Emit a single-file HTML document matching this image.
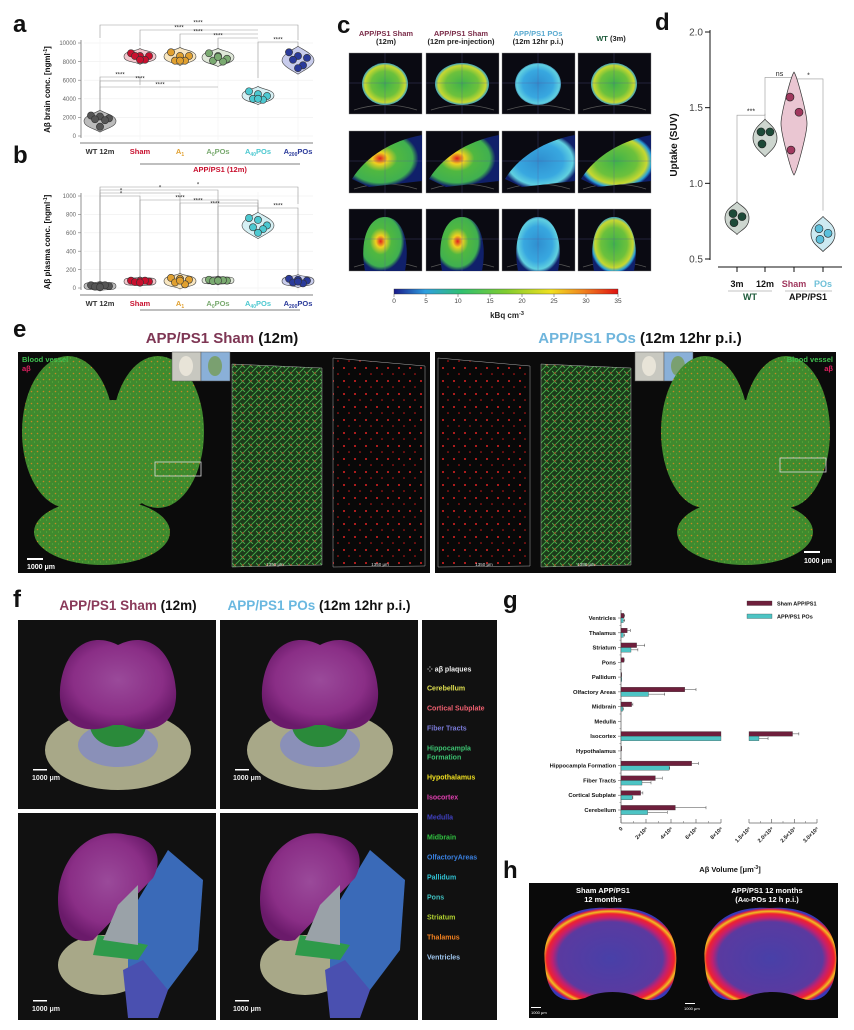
<!DOCTYPE html>
<html><head><meta charset="utf-8">
<style>
html,body{margin:0;padding:0;background:#fff;}
body{width:854px;height:1030px;overflow:hidden;font-family:"Liberation Sans",sans-serif;}
svg{display:block}
text{font-family:"Liberation Sans","DejaVu Sans",sans-serif;}
</style></head>
<body>
<svg id="fig" width="854" height="1030" viewBox="0 0 854 1030" xmlns="http://www.w3.org/2000/svg">
<defs>
  <radialGradient id="petG" cx="50%" cy="50%" r="55%"><stop offset="0" stop-color="#3fb34a"/><stop offset="0.55" stop-color="#6cc13c"/><stop offset="0.8" stop-color="#c8d830"/><stop offset="0.92" stop-color="#2aa0d8"/><stop offset="1" stop-color="#10206a"/></radialGradient>
  <radialGradient id="petB" cx="50%" cy="50%" r="55%"><stop offset="0" stop-color="#2f8fd0"/><stop offset="0.6" stop-color="#38a8e0"/><stop offset="0.85" stop-color="#60d0e0"/><stop offset="1" stop-color="#10206a"/></radialGradient>
  <radialGradient id="petH" cx="40%" cy="45%" r="55%"><stop offset="0" stop-color="#e02020"/><stop offset="0.2" stop-color="#f0d020"/><stop offset="0.45" stop-color="#50b840"/><stop offset="0.85" stop-color="#40b050"/><stop offset="1" stop-color="#10206a"/></radialGradient>
  <linearGradient id="cbar" x1="0" x2="1"><stop offset="0" stop-color="#1a1a8a"/><stop offset="0.14" stop-color="#2f9fe0"/><stop offset="0.3" stop-color="#30c070"/><stop offset="0.5" stop-color="#80cc30"/><stop offset="0.7" stop-color="#f0e020"/><stop offset="0.85" stop-color="#f08020"/><stop offset="1" stop-color="#e01010"/></linearGradient>
  <pattern id="vessel" width="8" height="8" patternUnits="userSpaceOnUse"><rect width="8" height="8" fill="#1c3a1a"/><path d="M0 8 L8 0 M-2 2 L2 -2 M6 10 L10 6 M0 3 L5 8" stroke="#49b04a" stroke-width="0.9"/><circle cx="3" cy="5" r="0.7" fill="#e02020"/></pattern>
  <pattern id="plaq" width="11" height="13" patternUnits="userSpaceOnUse"><rect width="11" height="13" fill="#080808"/><circle cx="3" cy="4" r="1" fill="#e02222"/><circle cx="8" cy="10" r="0.8" fill="#d01818"/></pattern>
  <pattern id="brainE" width="6" height="6" patternUnits="userSpaceOnUse"><rect width="6" height="6" fill="#3f8a2e"/><circle cx="1.5" cy="1.5" r="0.8" fill="#c48a24"/><circle cx="4.5" cy="4" r="0.6" fill="#5fae3a"/></pattern>
  <radialGradient id="hBrain" cx="50%" cy="55%" r="55%"><stop offset="0" stop-color="#4840a8"/><stop offset="0.72" stop-color="#5a3aa0"/><stop offset="0.8" stop-color="#c02070"/><stop offset="0.88" stop-color="#f02030"/><stop offset="0.93" stop-color="#f0c020"/><stop offset="0.97" stop-color="#e02040"/><stop offset="1" stop-color="#3838b8"/></radialGradient>
  <radialGradient id="purp" cx="50%" cy="45%" r="55%"><stop offset="0" stop-color="#9a4a9a"/><stop offset="0.7" stop-color="#8a2e86"/><stop offset="1" stop-color="#6a1a6a"/></radialGradient>
</defs>

<g font-weight="bold" font-size="24" fill="#111">
  <text x="13" y="32">a</text>
  <text x="13" y="163">b</text>
  <text x="337" y="33">c</text>
  <text x="655" y="30">d</text>
  <text x="13" y="337">e</text>
  <text x="13" y="607">f</text>
  <text x="503" y="608">g</text>
  <text x="503" y="878">h</text>
</g>

<g id="panelA"></g>
<g id="panelB"></g>

<g id="panelC" font-size="7.5" font-weight="bold" text-anchor="middle">
  <text x="386" y="36" fill="#7b2d4a">APP/PS1 Sham</text>
  <text x="386" y="44" fill="#222">(12m)</text>
  <text x="461" y="36" fill="#7b2d4a">APP/PS1 Sham</text>
  <text x="461" y="44" fill="#222">(12m pre-injection)</text>
  <text x="538" y="36" fill="#5aaad0">APP/PS1 POs</text>
  <text x="538" y="44" fill="#222">(12m 12hr p.i.)</text>
  <text x="611" y="41" fill="#1d5a3a">WT <tspan fill="#222">(3m)</tspan></text>
</g>
<g id="cImgs"></g>
<g>
  <rect x="394" y="289" width="224" height="5" fill="url(#cbar)" stroke="#333" stroke-width="0.4"/>
  <g id="cbTicks" font-size="6.5" fill="#444" text-anchor="middle"></g>
  <text x="507" y="318" font-size="8" font-weight="bold" text-anchor="middle" fill="#222">kBq cm<tspan font-size="5.5" dy="-3">-3</tspan></text>
</g>

<g id="panelD"></g>

<g>
  <text x="222" y="343" font-size="15" font-weight="bold" text-anchor="middle" fill="#111"><tspan fill="#7e3654">APP/PS1 Sham</tspan> (12m)</text>
  <text x="640" y="343" font-size="15" font-weight="bold" text-anchor="middle" fill="#111"><tspan fill="#6fb5dc">APP/PS1 POs</tspan> (12m 12hr p.i.)</text>
  <rect x="18" y="352" width="412" height="221" fill="#0b0b0b"/>
  <rect x="435" y="352" width="401" height="221" fill="#0b0b0b"/>
  <ellipse cx="102" cy="532" rx="68" ry="33" fill="url(#brainE)"/>
  <ellipse cx="68" cy="432" rx="46" ry="76" fill="url(#brainE)"/>
  <ellipse cx="158" cy="432" rx="46" ry="76" fill="url(#brainE)"/>
  <ellipse cx="113" cy="455" rx="60" ry="55" fill="url(#brainE)"/>
  <rect x="172" y="352" width="29" height="29" fill="#c8c8c0" stroke="#555" stroke-width="0.5"/>
  <rect x="201" y="352" width="29" height="29" fill="#8ab0d8" stroke="#555" stroke-width="0.5"/>
  <ellipse cx="186" cy="366" rx="7" ry="10" fill="#e8e4d8"/>
  <ellipse cx="215" cy="366" rx="7" ry="10" fill="#7aa070"/>
  <rect x="155" y="462" width="46" height="14" fill="none" stroke="#ddd" stroke-width="0.8"/>
  <text x="22" y="362" font-size="7.5" font-weight="bold" fill="#3fbf4f">Blood vessel</text>
  <text x="22" y="371" font-size="7.5" font-weight="bold" fill="#e02060">aβ</text>
  <rect x="27" y="558" width="16" height="2" fill="#fff"/>
  <text x="27" y="569" font-size="7" font-weight="bold" fill="#fff">1000 μm</text>
  <path d="M232 364 L322 368 L322 565 L232 567Z" fill="url(#vessel)" stroke="#aaa" stroke-width="0.5"/>
  <path d="M333 358 L425 366 L425 566 L333 567Z" fill="url(#plaq)" stroke="#aaa" stroke-width="0.5"/>
  <text x="275" y="566" font-size="4.5" fill="#ddd" text-anchor="middle">1350 μm</text>
  <text x="380" y="566" font-size="4.5" fill="#ddd" text-anchor="middle">1350 μm</text>
  <path d="M438 358 L530 366 L530 566 L438 567Z" fill="url(#plaq)" stroke="#aaa" stroke-width="0.5"/>
  <path d="M541 364 L631 368 L631 565 L541 567Z" fill="url(#vessel)" stroke="#aaa" stroke-width="0.5"/>
  <text x="484" y="566" font-size="4.5" fill="#ddd" text-anchor="middle">1350 μm</text>
  <text x="586" y="566" font-size="4.5" fill="#ddd" text-anchor="middle">1350 μm</text>
  <rect x="635" y="352" width="29" height="29" fill="#c8c8c0" stroke="#555" stroke-width="0.5"/>
  <rect x="664" y="352" width="29" height="29" fill="#8ab0d8" stroke="#555" stroke-width="0.5"/>
  <ellipse cx="649" cy="366" rx="7" ry="10" fill="#e8e4d8"/>
  <ellipse cx="678" cy="366" rx="7" ry="10" fill="#7aa070"/>
  <ellipse cx="745" cy="532" rx="68" ry="33" fill="url(#brainE)"/>
  <ellipse cx="705" cy="432" rx="44" ry="76" fill="url(#brainE)"/>
  <ellipse cx="786" cy="432" rx="44" ry="76" fill="url(#brainE)"/>
  <ellipse cx="745" cy="455" rx="58" ry="55" fill="url(#brainE)"/>
  <rect x="780" y="458" width="46" height="14" fill="none" stroke="#ddd" stroke-width="0.8"/>
  <text x="833" y="362" font-size="7.5" font-weight="bold" fill="#3fbf4f" text-anchor="end">Blood vessel</text>
  <text x="833" y="371" font-size="7.5" font-weight="bold" fill="#e02060" text-anchor="end">aβ</text>
  <rect x="804" y="551" width="16" height="2" fill="#fff"/>
  <text x="832" y="563" font-size="7" font-weight="bold" fill="#fff" text-anchor="end">1000 μm</text>
</g>

<g>
  <text x="128" y="610" font-size="13.5" font-weight="bold" text-anchor="middle" fill="#111"><tspan fill="#8a3a5a">APP/PS1 Sham</tspan> (12m)</text>
  <text x="319" y="610" font-size="13.5" font-weight="bold" text-anchor="middle" fill="#111"><tspan fill="#6ab8e0">APP/PS1 POs</tspan> (12m 12hr p.i.)</text>
  <rect x="18" y="620" width="198" height="189" fill="#111"/>
  <rect x="220" y="620" width="198" height="189" fill="#111"/>
  <rect x="18" y="813" width="198" height="207" fill="#111"/>
  <rect x="220" y="813" width="198" height="207" fill="#111"/>
  <rect x="422" y="620" width="75" height="400" fill="#111"/>
  <g id="fTop"></g>
  <g font-size="7" font-weight="bold" fill="#eee">
    <rect x="33" y="769" width="14" height="1.5" fill="#fff"/><text x="32" y="780">1000 μm</text>
    <rect x="235" y="769" width="14" height="1.5" fill="#fff"/><text x="233" y="780">1000 μm</text>
    <rect x="33" y="1000" width="14" height="1.5" fill="#fff"/><text x="32" y="1011">1000 μm</text>
    <rect x="235" y="1000" width="14" height="1.5" fill="#fff"/><text x="233" y="1011">1000 μm</text>
  </g>
  <g font-size="7" font-weight="bold" id="fLegend"></g>
</g>

<g id="panelG"></g>

<g>
  <rect x="529" y="883" width="309" height="135" fill="#0a0a0a"/>
  <path d="M545 965 C540 925 570 905 610 908 C650 905 680 925 676 965 C674 995 660 1005 640 998 C625 990 600 990 585 998 C560 1005 547 995 545 965Z" fill="url(#hBrain)"/>
  <path d="M705 965 C700 925 730 905 770 908 C810 905 840 925 836 965 C834 995 820 1005 800 998 C785 990 760 990 745 998 C720 1005 707 995 705 965Z" fill="url(#hBrain)"/>
  <text x="603" y="893" font-size="7.5" font-weight="bold" fill="#fff" text-anchor="middle">Sham APP/PS1</text>
  <text x="603" y="902" font-size="7.5" font-weight="bold" fill="#fff" text-anchor="middle">12 months</text>
  <text x="767" y="893" font-size="7.5" font-weight="bold" fill="#fff" text-anchor="middle">APP/PS1 12 months</text>
  <text x="767" y="902" font-size="7.5" font-weight="bold" fill="#fff" text-anchor="middle">(A<tspan font-size="5">40</tspan>-POs 12 h p.i.)</text>
  <rect x="531" y="1007" width="10" height="1" fill="#fff"/><text x="531" y="1014" font-size="4" fill="#fff">1000 μm</text>
  <rect x="685" y="1003" width="10" height="1" fill="#fff"/><text x="684" y="1010" font-size="4" fill="#fff">1000 μm</text>
</g>
</svg>

<script>
const abCats = ['WT 12m','Sham','A1','A0POs','A40POs','A200POs'];
const abColors = ['#555555','#c8102e','#e0a030','#7aaa70','#4cc8d0','#2a3a9a'];
const abFills = ['#bbbbbb','#f2c6cc','#f8e6c0','#dfe8d8','#d6f0f4','#c8ccec'];
const aValues = [[2200,2100,1900,1800,1700,1000],[8900,8600,8600,8600,8200,8200],[9000,8600,8600,8100,8100,8100],[8900,8600,8300,8100,8000,8500],[4800,4500,4300,4000,3900,4000],[9000,8600,8400,8200,7600,7300]];
const bValues = [[30,25,20,15,30,10],[80,75,70,65,80,60],[110,100,90,60,40,80],[90,85,80,75,85,80],[760,740,680,660,640,600],[100,90,80,60,50,70]];
const aTicks = [0,2000,4000,6000,8000,10000];
const bTicks = [0,200,400,600,800,1000];

const dCats = ['3m','12m','Sham','POs'];
const dValues = [[0.80,0.78,0.74],[1.34,1.34,1.26],[1.57,1.47,1.22],[0.70,0.67,0.63]];
const dTicks = [0.5,1.0,1.5,2.0];

const gCats = ['Ventricles','Thalamus','Striatum','Pons','Pallidum','Olfactory Areas','Midbrain','Medulla','Isocortex','Hypothalamus','Hippocampla Formation','Fiber Tracts','Cortical Subplate','Cerebellum'];
const gSham = [0.24,0.5,1.25,0.24,0.03,5.1,0.85,0,24.6,0.02,5.65,2.75,1.57,4.35];
const gShamErr = [0.3,0.75,1.9,0.26,0.05,6.0,0.95,0,26.0,0.03,6.2,3.3,1.75,6.8];
const gPOs = [0.19,0.19,0.8,0,0.05,2.2,0.13,0,17.2,0,3.85,1.68,0.9,2.13];
const gPOsErr = [0.3,0.3,1.35,0,0.06,3.5,0.2,0,19.2,0.02,3.9,2.4,0.95,3.7];
const gTicksLeft = [0,2,4,6,8];
const gTicksRight = [15,20,25,30];
const gTickLabelsLeft = ['0','2×10⁸','4×10⁸','6×10⁸','8×10⁸'];
const gTickLabelsRight = ['1.5×10⁹','2.0×10⁹','2.5×10⁹','3.0×10⁹'];
const cbTicks = [0,5,10,15,20,25,30,35];

const NS='http://www.w3.org/2000/svg';
function mk(parent, tag, attrs, text){const e=document.createElementNS(NS,tag);for(const k in attrs)e.setAttribute(k,attrs[k]);if(text!==undefined)e.textContent=text;parent.appendChild(e);return e;}

function catLabel(g,x,y,name,col){
  const t=mk(g,'text',{x:x,y:y,'font-size':7.5,'font-weight':'bold','text-anchor':'middle',fill:col});
  
  
  const m=name.match(/^A(\d+)(POs)?$/);
  if(m){mk(t,'tspan',{},'A');mk(t,'tspan',{'font-size':5,dy:2},m[1]);if(m[2])mk(t,'tspan',{dy:-2},'POs');}
  else t.textContent=name;
}

function violinPanel(root, vals, ticks, yTop, yBot, vMax, yLabel, brackets){
  const xs=[100,140,180,218,258,298];
  const y=v=>yBot-(v/vMax)*(yBot-yTop);
  ticks.forEach(t=>{
    mk(root,'line',{x1:84,x2:313,y1:y(t),y2:y(t),stroke:'#eee','stroke-width':0.6});
    mk(root,'line',{x1:78,x2:81,y1:y(t),y2:y(t),stroke:'#777','stroke-width':0.6});
    const tl=mk(root,'text',{x:76,y:y(t)+2.2,'font-size':6,'text-anchor':'end',fill:'#666'},String(t));
    
    
  });
  xs.forEach(x=>mk(root,'line',{x1:x,x2:x,y1:yTop-4,y2:yBot+4,stroke:'#f2f2f2','stroke-width':0.6}));
  mk(root,'line',{x1:81,x2:81,y1:yTop-3,y2:yBot+2,stroke:'#777','stroke-width':0.8});
  mk(root,'line',{x1:80,x2:313,y1:yBot+7,y2:yBot+7,stroke:'#555','stroke-width':0.8});
  const yl=mk(root,'text',{x:0,y:0,'font-size':8,'font-weight':'bold','text-anchor':'middle',fill:'#111',transform:`translate(50,${(yTop+yBot)/2}) rotate(-90)`});
  
  
  yl.innerHTML=yLabel;
  brackets.forEach(b=>{
    const x1=xs[b[0]],x2=xs[b[1]];
    mk(root,'path',{d:`M${x1} ${b[3]} L${x1} ${b[2]} L${x2} ${b[2]} L${x2} ${b[4]}`,fill:'none',stroke:'#999','stroke-width':0.6});
    mk(root,'text',{x:(b[5]||(x1+x2)/2),y:b[2]-0.5,'font-size':6,'text-anchor':'middle',fill:'#222'},b[6]);
  });
  vals.forEach((arr,i)=>{
    const mn=Math.min(...arr),mx=Math.max(...arr),pad=(vMax*0.04)+ (mx-mn)*0.15;
    const top=y(mx+pad),bot=y(mn-pad),mid=(y(mx)+y(mn))/2,w=16,cx=xs[i];
    const v=mk(root,'path',{d:`M${cx} ${top} C${cx+4} ${top+3} ${cx+w} ${mid-6} ${cx+w} ${mid} C${cx+w} ${mid+6} ${cx+4} ${bot-3} ${cx} ${bot} C${cx-4} ${bot-3} ${cx-w} ${mid+6} ${cx-w} ${mid} C${cx-w} ${mid-6} ${cx-4} ${top+3} ${cx} ${top}Z`,fill:abFills[i],stroke:'#444','stroke-width':0.6});
    
    
    arr.forEach((val,j)=>{
      const off=[-9,0,9,-5,5,0][j];
      const c=mk(root,'circle',{cx:cx+off,cy:y(val),r:3.6,fill:abColors[i],stroke:'#333','stroke-width':0.6});
      
      
    });
  });
  abCats.forEach((c,i)=>catLabel(root,xs[i],yBot+18,c,abColors[i]==='#555555'?'#333':abColors[i]));
}

const A=document.getElementById('panelA');
violinPanel(A,aValues,aTicks,43,136,10000,'Aβ brain conc. [ngml<tspan font-size="5" dy="-3">-1</tspan><tspan dy="3">]</tspan>',
 [[0,5,25,38,40,198,'****'],[1,4,30,46,30,179,'****'],[2,4,34,56,34,198,'****'],[3,4,38,63,38,218,'****'],[4,5,42,78,56,278,'****'],
  [0,1,77,120,85,120,'****'],[0,2,81,120,81,140,'****'],[0,3,87,120,87,160,'****']]);
mk(A,'line',{x1:140,x2:300,y1:164,y2:164,stroke:'#555','stroke-width':0.7});
const appT=mk(A,'text',{x:220,y:172,'font-size':7.5,'font-weight':'bold','text-anchor':'middle',fill:'#c8102e'},'APP/PS1 (12m)');



const B=document.getElementById('panelB');
violinPanel(B,bValues,bTicks,196,288,1000,'Aβ plasma conc. [ngml<tspan font-size="5" dy="-3">-1</tspan><tspan dy="3">]</tspan>',
 [[0,5,187,286,204,198,'*'],[0,3,190,286,283,160,'*'],[0,2,193,286,277,121,'*'],[0,1,196,286,278,121,'*'],
  [1,4,200,278,215,180,'****'],[2,4,203,277,215,198,'****'],[3,4,206,283,215,215,'****'],[4,5,208,215,283,278,'****']]);
mk(B,'line',{x1:140,x2:300,y1:310,y2:310,stroke:'#555','stroke-width':0.7});

const cI=document.getElementById('cImgs');
const cx0=[349,426,502,578], cy0=[53,131,209], cyH=[61,62,62];
for(let r=0;r<3;r++)for(let c=0;c<4;c++){
  const x=cx0[c],yy=cy0[r];
  const g=mk(cI,'g',{});
  
  
  mk(g,'rect',{x:x,y:yy,width:73,height:cyH[r],fill:'#0a0a12',stroke:'#888','stroke-width':0.4});
  mk(g,'path',{d:`M${x+5} ${yy+cyH[r]-4} Q${x+36} ${yy+cyH[r]-14} ${x+68} ${yy+cyH[r]-4}`,fill:'none',stroke:'#555','stroke-width':0.8});
  const fill=c===2?'url(#petB)':(r!==0&&c<2?'url(#petH)':'url(#petG)');
  if(r===0) mk(g,'ellipse',{cx:x+36,cy:yy+31,rx:c===1?27:23,ry:21,fill:fill});
  if(r===1) mk(g,'path',{d:`M${x+3} ${yy+48} C${x+15} ${yy+28} ${x+40} ${yy+10} ${x+73} ${yy+4} L${x+73} ${yy+50} L${x+20} ${yy+56} Z`,fill:fill});
  if(r===2) mk(g,'path',{d:`M${x+16} ${yy+62} C${x+10} ${yy+30} ${x+20} ${yy+8} ${x+36} ${yy+8} C${x+52} ${yy+8} ${x+62} ${yy+30} ${x+56} ${yy+62}Z`,fill:fill});
  mk(g,'line',{x1:x+36,x2:x+36,y1:yy,y2:yy+cyH[r],stroke:'#5a5a9a','stroke-width':0.3});
  mk(g,'line',{x1:x,x2:x+73,y1:yy+30,y2:yy+30,stroke:'#5a5a9a','stroke-width':0.3});
}
const cbT=document.getElementById('cbTicks');
cbTicks.forEach(t=>{const x=394+t/35*224;mk(cbT,'line',{x1:x,x2:x,y1:294,y2:297,stroke:'#444','stroke-width':0.5});mk(cbT,'text',{x:x,y:303},String(t));});

const D=document.getElementById('panelD');
const dx=[737,765,794,823];
const dy=v=>259-(v-0.5)/1.5*(259-32);
const dFill=['#cdd6cf','#cdd6cf','#eac6d2','#cdeaf2'];
const dPt=['#1d4a38','#1d4a38','#a0385e','#5bc0dc'];
mk(D,'line',{x1:710,x2:710,y1:30,y2:260,stroke:'#111','stroke-width':1});
dTicks.forEach(t=>{mk(D,'line',{x1:705,x2:710,y1:dy(t),y2:dy(t),stroke:'#111','stroke-width':1});
  const tl=mk(D,'text',{x:703,y:dy(t)+3.5,'font-size':10,'text-anchor':'end',fill:'#444'},t.toFixed(1));
  
  });
const dyl=mk(D,'text',{x:0,y:0,'font-size':10,'font-weight':'bold','text-anchor':'middle',fill:'#111',transform:'translate(677,145) rotate(-90)'},'Uptake (SUV)');


mk(D,'line',{x1:718,x2:842,y1:267,y2:267,stroke:'#111','stroke-width':1});
dx.forEach(x=>mk(D,'line',{x1:x,x2:x,y1:267,y2:272,stroke:'#111','stroke-width':1}));
[['3m',737,'#111'],['12m',765,'#111'],['Sham',794,'#a0385e'],['POs',823,'#6fc0d8']].forEach(a=>{
  const t=mk(D,'text',{x:a[1],y:287,'font-size':9,'font-weight':'bold','text-anchor':'middle',fill:a[2]},a[0]);
  
  });
mk(D,'line',{x1:728,x2:772,y1:291,y2:291,stroke:'#888','stroke-width':0.6});
mk(D,'line',{x1:785,x2:832,y1:291,y2:291,stroke:'#888','stroke-width':0.6});
mk(D,'text',{x:750,y:300,'font-size':9,'font-weight':'bold','text-anchor':'middle',fill:'#1d5a3a'},'WT');
mk(D,'text',{x:808,y:300,'font-size':9,'font-weight':'bold','text-anchor':'middle',fill:'#111'},'APP/PS1');
[[0,1,1.45,'***'],[1,2,1.70,'ns'],[2,3,1.69,'*']].forEach(b=>{
  const i=b[0],j=b[1],yy=dy(b[2]);
  mk(D,'path',{d:`M${dx[i]} ${dy(Math.max(...dValues[i])+0.08)} L${dx[i]} ${yy} L${dx[j]} ${yy} L${dx[j]} ${dy(Math.max(...dValues[j])+0.12)}`,fill:'none',stroke:'#999','stroke-width':0.6});
  mk(D,'text',{x:(dx[i]+dx[j])/2,y:yy-1.5,'font-size':7,'text-anchor':'middle',fill:'#222'},b[3]);
});
dValues.forEach((arr,i)=>{
  const mn=Math.min(...arr),mx=Math.max(...arr),pad=0.06+(mx-mn)*0.3;
  const top=dy(mx+pad),bot=dy(mn-pad),mid=(dy(mx)+dy(mn))/2,w=i===2?13:12,cx=dx[i];
  const v=mk(D,'path',{d:`M${cx} ${top} C${cx+3} ${top+4} ${cx+w} ${mid-10} ${cx+w} ${mid} C${cx+w} ${mid+10} ${cx+3} ${bot-4} ${cx} ${bot} C${cx-3} ${bot-4} ${cx-w} ${mid+10} ${cx-w} ${mid} C${cx-w} ${mid-10} ${cx-3} ${top+4} ${cx} ${top}Z`,fill:dFill[i],stroke:'#333','stroke-width':0.7});
  
  
  arr.forEach((val,j)=>{
    const c=mk(D,'circle',{cx:cx+[-4,5,-3][j],cy:dy(val),r:4,fill:dPt[i],stroke:'#222','stroke-width':0.6});
    
    
  });
});

const fT=document.getElementById('fTop');
[18,220].forEach(x0=>{
  mk(fT,'ellipse',{cx:x0+100,cy:750,rx:73,ry:40,fill:'#a8a888'});
  mk(fT,'ellipse',{cx:x0+100,cy:745,rx:40,ry:22,fill:'#8a90b8'});
  mk(fT,'ellipse',{cx:x0+100,cy:725,rx:28,ry:22,fill:'#2a8a3a'});
  mk(fT,'path',{d:`M${x0+100} 645 C${x0+70} 630 ${x0+45} 650 ${x0+42} 690 C${x0+40} 720 ${x0+60} 738 ${x0+95} 725 L${x0+105} 725 C${x0+140} 738 ${x0+160} 720 ${x0+158} 690 C${x0+155} 650 ${x0+130} 630 ${x0+100} 645Z`,fill:'url(#purp)'});
  mk(fT,'ellipse',{cx:x0+85,cy:965,rx:45,ry:30,fill:'#a8a888'});
  mk(fT,'path',{d:`M${x0+150} 850 L${x0+185} 880 L${x0+180} 950 L${x0+150} 990 L${x0+110} 1015 L${x0+110} 960 L${x0+120} 900Z`,fill:'#3a6ab8'});
  mk(fT,'path',{d:`M${x0+125} 960 L${x0+150} 990 L${x0+140} 1018 L${x0+110} 1018 L${x0+105} 970Z`,fill:'#4a50b0'});
  mk(fT,'path',{d:`M${x0+80} 935 L${x0+130} 945 L${x0+120} 960 L${x0+75} 955Z`,fill:'#2e9a4a'});
  mk(fT,'path',{d:`M${x0+110} 835 C${x0+70} 825 ${x0+40} 860 ${x0+40} 900 C${x0+40} 930 ${x0+55} 945 ${x0+75} 940 L${x0+135} 878 C${x0+145} 860 ${x0+140} 838 ${x0+110} 835Z`,fill:'url(#purp)'});
  mk(fT,'path',{d:`M${x0+100} 905 L${x0+120} 885 L${x0+120} 945 L${x0+85} 940Z`,fill:'#9aa2a8'});
});
const fL=document.getElementById('fLegend');
const fLegNames=[['⁘ aβ plaques','#eee',669],['Cerebellum','#e0e050',688],['Cortical Subplate','#f06070',708],['Fiber Tracts','#7a7ad8',728],['Hippocampla','#3cc070',748],['Formation','#3cc070',757],['Hypothalamus','#f0e020',777],['Isocortex','#e040b0',797],['Medulla','#4040c0',817],['Midbrain','#30c040',837],['OlfactoryAreas','#3a80e0',857],['Pallidum','#30c0d0',877],['Pons','#40c0c0',897],['Striatum','#b0d030',917],['Thalamus','#f08020',937],['Ventricles','#a0c8f0',957]];
fLegNames.forEach(a=>{
  const t=mk(fL,'text',{x:427,y:a[2]+2.5,fill:a[1]},a[0]);
  
  
});

const G=document.getElementById('panelG');
const gx0=621, gxL=721, gxR0=749, gxR1=817, gAxisY=823;
function gx(v){ if(v<=8) return gx0+(v/8)*(gxL-gx0); return gxR0+((v-15)/15)*(gxR1-gxR0); }
const gy=i=>618+i*14.77;
mk(G,'line',{x1:gx0,x2:gx0,y1:610,y2:gAxisY,stroke:'#666','stroke-width':0.8});
gCats.forEach((c,i)=>{
  mk(G,'line',{x1:gx0-3,x2:gx0,y1:gy(i),y2:gy(i),stroke:'#666','stroke-width':0.6});
  mk(G,'line',{x1:gx0-1.5,x2:gx0,y1:gy(i)+7.4,y2:gy(i)+7.4,stroke:'#666','stroke-width':0.5});
  const t=mk(G,'text',{x:gx0-5,y:gy(i)+2,'font-size':5.8,'font-weight':'bold','text-anchor':'end',fill:'#111'},c);
  
  
});
function gBar(v,err,i,off,col,name){
  if(v<=0) return;
  const yy=gy(i)+off;
  if(v>8){
    const b1=mk(G,'rect',{x:gx0,y:yy,width:gxL-gx0,height:4.6,fill:col,stroke:'#333','stroke-width':0.3});
    
    
    const b2=mk(G,'rect',{x:gxR0,y:yy,width:gx(v)-gxR0,height:4.6,fill:col,stroke:'#333','stroke-width':0.3});
    
    
  } else {
    const b=mk(G,'rect',{x:gx0,y:yy,width:Math.max(gx(v)-gx0,0.6),height:4.6,fill:col,stroke:'#333','stroke-width':0.3});
    
    
  }
  if(err>v){
    const x1=gx(v),x2=gx(err);
    mk(G,'line',{x1:x1,x2:x2,y1:yy+2.3,y2:yy+2.3,stroke:'#444','stroke-width':0.5});
    mk(G,'line',{x1:x2,x2:x2,y1:yy+0.8,y2:yy+3.8,stroke:'#444','stroke-width':0.5});
  }
}
gCats.forEach((c,i)=>{gBar(gSham[i],gShamErr[i],i,-4.6,'#6e1f3c','sham');gBar(gPOs[i],gPOsErr[i],i,0,'#4dc4c4','pos');});
mk(G,'line',{x1:gx0,x2:gxL,y1:gAxisY,y2:gAxisY,stroke:'#666','stroke-width':0.8});
mk(G,'line',{x1:gxR0,x2:gxR1,y1:gAxisY,y2:gAxisY,stroke:'#666','stroke-width':0.8});
gTicksLeft.forEach((t,k)=>{
  const x=gx(t);
  mk(G,'line',{x1:x,x2:x,y1:gAxisY-4,y2:gAxisY,stroke:'#666','stroke-width':0.7});
  if(k<gTicksLeft.length-1){const xm=gx(t+1);mk(G,'line',{x1:xm,x2:xm,y1:gAxisY-2,y2:gAxisY,stroke:'#666','stroke-width':0.5});}
  const tl=mk(G,'text',{x:0,y:0,'font-size':5.5,'font-weight':'bold','text-anchor':'end',fill:'#222',transform:`translate(${x+2},${gAxisY+6}) rotate(-45)`},gTickLabelsLeft[k]);
  
  
});
gTicksRight.forEach((t,k)=>{
  const x=gx(t);
  mk(G,'line',{x1:x,x2:x,y1:gAxisY-4,y2:gAxisY,stroke:'#666','stroke-width':0.7});
  if(k<gTicksRight.length-1){const xm=gx(t+2.5);mk(G,'line',{x1:xm,x2:xm,y1:gAxisY-2,y2:gAxisY,stroke:'#666','stroke-width':0.5});}
  const tl=mk(G,'text',{x:0,y:0,'font-size':5.5,'font-weight':'bold','text-anchor':'end',fill:'#222',transform:`translate(${x+2},${gAxisY+6}) rotate(-45)`},gTickLabelsRight[k]);
  
  
});
const gxt=mk(G,'text',{x:730,y:872,'font-size':7.5,'font-weight':'bold','text-anchor':'middle',fill:'#111'});


gxt.innerHTML='Aβ Volume [μm<tspan font-size="5" dy="-3">-3</tspan><tspan dy="3">]</tspan>';
[['Sham APP/PS1','#6e1f3c',601],['APP/PS1 POs','#4dc4c4',614]].forEach(a=>{
  const r=mk(G,'rect',{x:747,y:a[2],width:25,height:4.5,fill:a[1],stroke:'#333','stroke-width':0.3});
  
  
  const t=mk(G,'text',{x:777,y:a[2]+4.5,'font-size':5.5,'font-weight':'bold',fill:'#111'},a[0]);
  
  
});
</script>
</body></html>
